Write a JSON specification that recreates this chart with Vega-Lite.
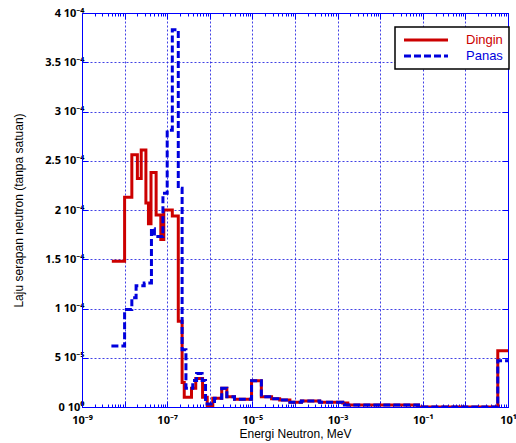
{
  "$schema": "https://vega.github.io/schema/vega-lite/v6.json",
  "width": 426,
  "height": 394,
  "autosize": "none",
  "padding": {"left": 82, "top": 13, "right": 8, "bottom": 36},
  "background": "white",
  "config": {
    "font": "Liberation Sans",
    "view": {"stroke": "#0000ff", "strokeWidth": 1},
    "axis": {
      "domainColor": "#0000ff",
      "tickColor": "#0000ff",
      "labelColor": "black",
      "labelFont": "Noto Sans",
      "labelFontSize": 11,
      "labelFontWeight": "bold",
      "titleFont": "Liberation Sans",
      "titleFontSize": 12,
      "titleFontWeight": "normal",
      "titleColor": "black",
      "gridColor": "#2020e0",
      "gridDash": [2, 2],
      "gridWidth": 1,
      "labelOverlap": false,
      "labelFlush": false
    },
    "legend": {
      "orient": "none",
      "legendX": 313,
      "legendY": 14,
      "symbolType": "M-4,0H4",
      "symbolSize": 121,
      "symbolStrokeWidth": 3,
      "symbolOffset": 18,
      "labelFont": "Liberation Sans",
      "labelFontSize": 13,
      "labelAlign": "left",
      "fillColor": "white",
      "strokeColor": "black",
      "strokeWidth": 1.5,
      "padding": 6,
      "rowPadding": 2,
      "labelOffset": 33
    }
  },
  "data": {
    "values": [
      {"series": "Dingin", "E": 5.01e-9, "v": 1.48e-4},
      {"series": "Dingin", "E": 1e-8, "v": 2.13e-4},
      {"series": "Dingin", "E": 1.479e-8, "v": 2.56e-4},
      {"series": "Dingin", "E": 1.995e-8, "v": 2.32e-4},
      {"series": "Dingin", "E": 2.455e-8, "v": 2.61e-4},
      {"series": "Dingin", "E": 3.162e-8, "v": 2.07e-4},
      {"series": "Dingin", "E": 3.631e-8, "v": 1.86e-4},
      {"series": "Dingin", "E": 4.169e-8, "v": 2.38e-4},
      {"series": "Dingin", "E": 5.495e-8, "v": 1.95e-4},
      {"series": "Dingin", "E": 7.079e-8, "v": 1.70e-4},
      {"series": "Dingin", "E": 8.318e-8, "v": 2.00e-4},
      {"series": "Dingin", "E": 1.318e-7, "v": 1.94e-4},
      {"series": "Dingin", "E": 1.820e-7, "v": 0.87e-4},
      {"series": "Dingin", "E": 2.239e-7, "v": 0.25e-4},
      {"series": "Dingin", "E": 2.512e-7, "v": 0.10e-4},
      {"series": "Dingin", "E": 3.715e-7, "v": 0.19e-4},
      {"series": "Dingin", "E": 4.677e-7, "v": 0.29e-4},
      {"series": "Dingin", "E": 6.761e-7, "v": 0.10e-4},
      {"series": "Dingin", "E": 8.710e-7, "v": 0.01e-4},
      {"series": "Dingin", "E": 1.175e-6, "v": 0.09e-4},
      {"series": "Dingin", "E": 1.905e-6, "v": 0.19e-4},
      {"series": "Dingin", "E": 2.512e-6, "v": 0.105e-4},
      {"series": "Dingin", "E": 3.802e-6, "v": 0.078e-4},
      {"series": "Dingin", "E": 9.550e-6, "v": 0.267e-4},
      {"series": "Dingin", "E": 1.622e-5, "v": 0.105e-4},
      {"series": "Dingin", "E": 2.818e-5, "v": 0.085e-4},
      {"series": "Dingin", "E": 4.365e-5, "v": 0.071e-4},
      {"series": "Dingin", "E": 7.586e-5, "v": 0.048e-4},
      {"series": "Dingin", "E": 1.413e-4, "v": 0.061e-4},
      {"series": "Dingin", "E": 3.802e-4, "v": 0.048e-4},
      {"series": "Dingin", "E": 1.318e-3, "v": 0.04e-4},
      {"series": "Dingin", "E": 1.738e-3, "v": 0.02e-4},
      {"series": "Dingin", "E": 7.943e-2, "v": 0},
      {"series": "Dingin", "E": 5.754, "v": 0.57e-4},
      {"series": "Dingin", "E": 10, "v": 0.57e-4},
      {"series": "Panas", "E": 4.90e-9, "v": 0.62e-4},
      {"series": "Panas", "E": 1e-8, "v": 0.99e-4},
      {"series": "Panas", "E": 1.479e-8, "v": 1.11e-4},
      {"series": "Panas", "E": 1.862e-8, "v": 1.23e-4},
      {"series": "Panas", "E": 2.884e-8, "v": 1.26e-4},
      {"series": "Panas", "E": 4.266e-8, "v": 1.81e-4},
      {"series": "Panas", "E": 5.012e-8, "v": 1.73e-4},
      {"series": "Panas", "E": 7.943e-8, "v": 2.17e-4},
      {"series": "Panas", "E": 1e-7, "v": 2.81e-4},
      {"series": "Panas", "E": 1.318e-7, "v": 3.83e-4},
      {"series": "Panas", "E": 1.820e-7, "v": 2.22e-4},
      {"series": "Panas", "E": 2.239e-7, "v": 0.58e-4},
      {"series": "Panas", "E": 2.754e-7, "v": 0.19e-4},
      {"series": "Panas", "E": 3.981e-7, "v": 0.27e-4},
      {"series": "Panas", "E": 4.898e-7, "v": 0.34e-4},
      {"series": "Panas", "E": 6.607e-7, "v": 0.27e-4},
      {"series": "Panas", "E": 7.943e-7, "v": 0.03e-4},
      {"series": "Panas", "E": 1.288e-6, "v": 0.09e-4},
      {"series": "Panas", "E": 1.905e-6, "v": 0.19e-4},
      {"series": "Panas", "E": 2.512e-6, "v": 0.105e-4},
      {"series": "Panas", "E": 3.802e-6, "v": 0.078e-4},
      {"series": "Panas", "E": 9.550e-6, "v": 0.267e-4},
      {"series": "Panas", "E": 1.622e-5, "v": 0.105e-4},
      {"series": "Panas", "E": 2.818e-5, "v": 0.085e-4},
      {"series": "Panas", "E": 4.365e-5, "v": 0.071e-4},
      {"series": "Panas", "E": 7.586e-5, "v": 0.048e-4},
      {"series": "Panas", "E": 1.413e-4, "v": 0.061e-4},
      {"series": "Panas", "E": 3.802e-4, "v": 0.048e-4},
      {"series": "Panas", "E": 1.318e-3, "v": 0.03e-4},
      {"series": "Panas", "E": 1.445e-3, "v": 0.02e-4},
      {"series": "Panas", "E": 7.943e-2, "v": 0},
      {"series": "Panas", "E": 5.754, "v": 0.47e-4},
      {"series": "Panas", "E": 10, "v": 0.47e-4}
    ]
  },
  "layer": [
    {
      "transform": [{"filter": "datum.series === 'Dingin'"}],
      "mark": {"type": "line", "interpolate": "step-after", "strokeWidth": 3, "clip": true},
      "encoding": {
        "x": {
          "field": "E", "type": "quantitative",
          "scale": {"type": "log", "domain": [1e-9, 10], "nice": false},
          "axis": {
            "orient": "bottom",
            "title": "Energi Neutron, MeV",
            "titleY": 26,
            "titleBaseline": "middle",
            "values": [1e-9,2e-9,3e-9,4e-9,5e-9,6e-9,7e-9,8e-9,9e-9,1e-8,2e-8,3e-8,4e-8,5e-8,6e-8,7e-8,8e-8,9e-8,1e-7,2e-7,3e-7,4e-7,5e-7,6e-7,7e-7,8e-7,9e-7,1e-6,2e-6,3e-6,4e-6,5e-6,6e-6,7e-6,8e-6,9e-6,1e-5,2e-5,3e-5,4e-5,5e-5,6e-5,7e-5,8e-5,9e-5,1e-4,2e-4,3e-4,4e-4,5e-4,6e-4,7e-4,8e-4,9e-4,1e-3,2e-3,3e-3,4e-3,5e-3,6e-3,7e-3,8e-3,9e-3,1e-2,2e-2,3e-2,4e-2,5e-2,6e-2,7e-2,8e-2,9e-2,0.1,0.2,0.3,0.4,0.5,0.6,0.7,0.8,0.9,1,2,3,4,5,6,7,8,9,10],
            "grid": true,
            "gridOpacity": {"condition": {"test": "abs(log(datum.value)/LN10 - round(log(datum.value)/LN10)) < 0.001", "value": 0.85}, "value": 0},
            "tickSize": {"condition": {"test": "abs(log(datum.value)/LN10 - round(log(datum.value)/LN10)) < 0.001", "value": -6}, "value": -3},
            "labelPadding": 13,
            "labelBaseline": "top",
            "labelExpr": "abs(log(datum.value)/LN10 - round(log(datum.value)/LN10)) > 0.001 ? '' : round(log(datum.value)/LN10) == -9 ? '10⁻⁹' : round(log(datum.value)/LN10) == -7 ? '10⁻⁷' : round(log(datum.value)/LN10) == -5 ? '10⁻⁵' : round(log(datum.value)/LN10) == -3 ? '10⁻³' : round(log(datum.value)/LN10) == -1 ? '10⁻¹' : round(log(datum.value)/LN10) == 1 ? '10¹' : ''"
          }
        },
        "y": {
          "field": "v", "type": "quantitative",
          "scale": {"domain": [0, 0.0004], "nice": false, "zero": true},
          "axis": {
            "orient": "left",
            "title": "Laju serapan neutron (tanpa satuan)",
            "titleX": -64,
            "titleY": 197,
            "titleAlign": "center",
            "titleBaseline": "middle",
            "titleAngle": -90,
            "values": [0, 0.00005, 0.0001, 0.00015, 0.0002, 0.00025, 0.0003, 0.00035, 0.0004],
            "grid": true,
            "gridOpacity": 0.85,
            "tickSize": -6,
            "labelPadding": 4,
            "labelExpr": "datum.value == 0 ? '0 10⁰' : datum.value < 0.00009 ? round(datum.value*1e5) + ' 10⁻⁵' : (round(datum.value*1e5)/10) + ' 10⁻⁴'"
          }
        },
        "color": {
          "field": "series", "type": "nominal",
          "scale": {"domain": ["Dingin", "Panas"], "range": ["#cc0000", "#0000dd"]},
          "legend": {"title": null, "encode": {"labels": {"update": {"fill": {"scale": "color", "field": "value"}}}}}
        },
        "strokeDash": {
          "field": "series", "type": "nominal",
          "scale": {"domain": ["Dingin", "Panas"], "range": [[1, 0], [7, 3]]},
          "legend": {"title": null, "encode": {"labels": {"update": {"fill": {"scale": "color", "field": "value"}}}}}
        }
      }
    },
    {
      "transform": [{"filter": "datum.series === 'Panas'"}],
      "mark": {"type": "line", "interpolate": "step-after", "strokeWidth": 3, "clip": true},
      "encoding": {
        "x": {
          "field": "E", "type": "quantitative",
          "axis": {
            "orient": "top",
            "title": null,
            "labels": false,
            "grid": false,
            "values": [1e-9,2e-9,3e-9,4e-9,5e-9,6e-9,7e-9,8e-9,9e-9,1e-8,2e-8,3e-8,4e-8,5e-8,6e-8,7e-8,8e-8,9e-8,1e-7,2e-7,3e-7,4e-7,5e-7,6e-7,7e-7,8e-7,9e-7,1e-6,2e-6,3e-6,4e-6,5e-6,6e-6,7e-6,8e-6,9e-6,1e-5,2e-5,3e-5,4e-5,5e-5,6e-5,7e-5,8e-5,9e-5,1e-4,2e-4,3e-4,4e-4,5e-4,6e-4,7e-4,8e-4,9e-4,1e-3,2e-3,3e-3,4e-3,5e-3,6e-3,7e-3,8e-3,9e-3,1e-2,2e-2,3e-2,4e-2,5e-2,6e-2,7e-2,8e-2,9e-2,0.1,0.2,0.3,0.4,0.5,0.6,0.7,0.8,0.9,1,2,3,4,5,6,7,8,9,10],
            "tickSize": {"condition": {"test": "abs(log(datum.value)/LN10 - round(log(datum.value)/LN10)) < 0.001", "value": -6}, "value": -3}
          }
        },
        "y": {
          "field": "v", "type": "quantitative",
          "axis": {
            "orient": "right",
            "title": null,
            "labels": false,
            "grid": false,
            "values": [0, 0.00005, 0.0001, 0.00015, 0.0002, 0.00025, 0.0003, 0.00035, 0.0004],
            "tickSize": -6
          }
        },
        "color": {"field": "series", "type": "nominal"},
        "strokeDash": {"field": "series", "type": "nominal"}
      }
    }
  ],
  "resolve": {"axis": {"x": "independent", "y": "independent"}}
}
